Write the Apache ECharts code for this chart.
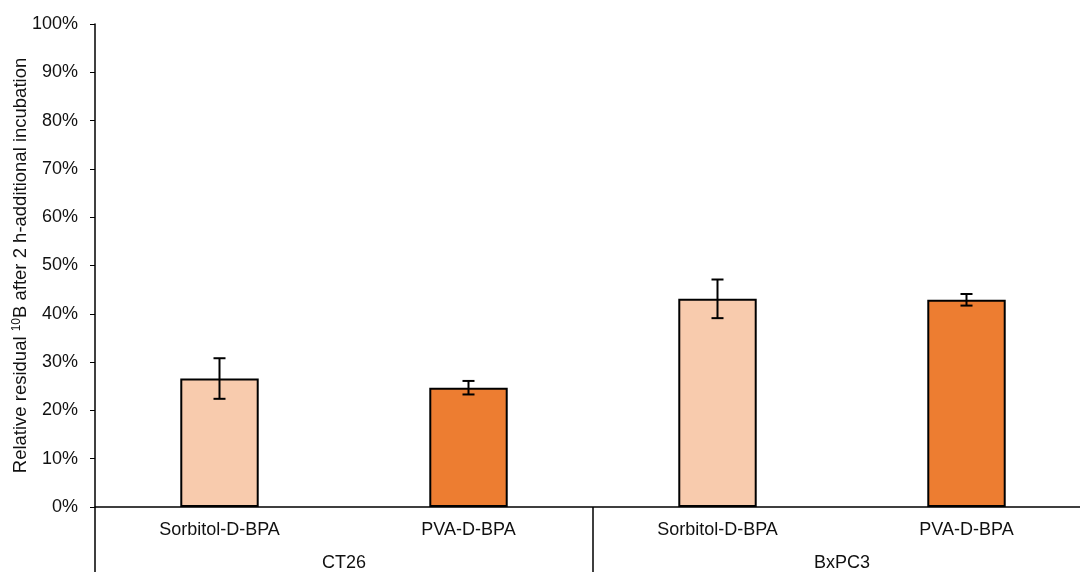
<!DOCTYPE html>
<html>
<head>
<meta charset="utf-8">
<script src="https://cdn.jsdelivr.net/npm/echarts@6/dist/echarts.min.js"></script>
<style>
  html, body { margin: 0; padding: 0; background: #fff; }
  #chart { width: 1080px; height: 572px; }
</style>
</head>
<body>
<div id="chart"></div>
<script>
// data
const samples = ['Sorbitol-D-BPA', 'PVA-D-BPA', 'Sorbitol-D-BPA', 'PVA-D-BPA']
const cellLines = ['CT26', 'BxPC3']
const residual = [26.6, 24.7, 43.1, 42.9]
const errors = [4.2, 1.4, 4.0, 1.2]
const barColors = ['#F8CBAD', '#ED7D31', '#F8CBAD', '#ED7D31']

const font = 'Liberation Sans, Arial, sans-serif'
const chart = echarts.init(document.getElementById('chart'))

const option = {
  animation: false,
  grid: { left: 95, top: 24, width: 996, bottom: 65, containLabel: false, outerBoundsMode: 'none' },
  xAxis: [
    {
      type: 'category',
      data: samples,
      axisLine: { lineStyle: { color: '#000', width: 1.5 } },
      axisTick: { show: false },
      axisLabel: { color: '#111', fontSize: 18, fontFamily: font, margin: 14 }
    },
    {
      type: 'category',
      data: cellLines,
      position: 'bottom',
      axisLine: { show: false },
      axisTick: { show: true, length: 66, lineStyle: { color: '#000', width: 1.5 } },
      axisLabel: { color: '#111', fontSize: 18, fontFamily: font, margin: 47 }
    }
  ],
  yAxis: {
    type: 'value',
    min: 0,
    max: 100,
    interval: 10,
    axisLine: { show: true, lineStyle: { color: '#000', width: 1.5 } },
    axisTick: { show: true, length: 5, lineStyle: { color: '#000' } },
    splitLine: { show: false },
    axisLabel: { color: '#111', fontSize: 18, fontFamily: font, margin: 17, formatter: '{value}%' },
    name: '{n|Relative residual }{s|10}{n|B after 2 h-additional incubation}',
    nameLocation: 'middle',
    nameGap: 64,
    nameMoveOverlap: false,
    nameRotate: 90,
    nameTextStyle: {
      rich: {
        n: { fontSize: 18.5, color: '#111', fontFamily: font },
        s: { fontSize: 12, color: '#111', fontFamily: font, verticalAlign: 'top', padding: [0, 0, 8, 0] }
      }
    }
  },
  series: [
    {
      type: 'bar',
      xAxisIndex: 0,
      barWidth: '31.5%',
      data: residual.map((v, i) => ({
        value: v,
        itemStyle: { color: barColors[i], borderColor: '#000', borderWidth: 2 }
      }))
    },
    {
      type: 'custom',
      xAxisIndex: 0,
      z: 10,
      data: residual.map((v, i) => [i, v - errors[i], v + errors[i]]),
      renderItem: function (params, api) {
        const lo = api.coord([api.value(0), api.value(1)])
        const hi = api.coord([api.value(0), api.value(2)])
        const cap = 6
        const style = { stroke: '#000', lineWidth: 2 }
        return {
          type: 'group',
          children: [
            { type: 'line', shape: { x1: hi[0], y1: hi[1], x2: lo[0], y2: lo[1] }, style },
            { type: 'line', shape: { x1: hi[0] - cap, y1: hi[1], x2: hi[0] + cap, y2: hi[1] }, style },
            { type: 'line', shape: { x1: lo[0] - cap, y1: lo[1], x2: lo[0] + cap, y2: lo[1] }, style }
          ]
        }
      }
    }
  ]
}
chart.setOption(option)
</script>
</body>
</html>
